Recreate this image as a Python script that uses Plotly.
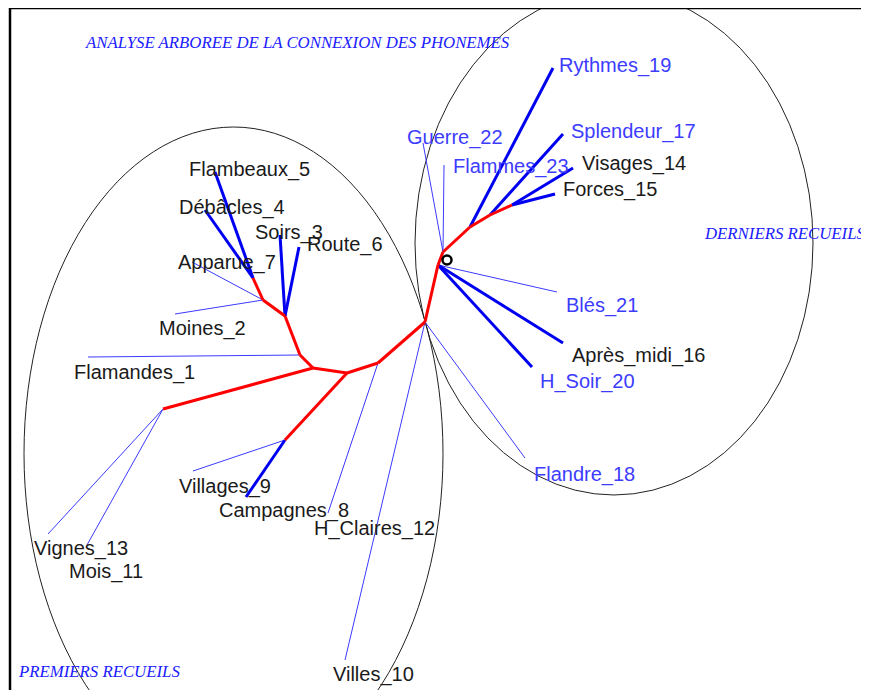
import plotly.graph_objects as go

# internal nodes of the tree (layout coordinates)
node_names = ["root", "a", "b", "c", "d", "e", "f", "g", "h", "i", "j", "k", "l", "m", "n"]
node_x = [438, 443, 470, 490, 512, 425, 378, 347, 285, 313, 163, 300, 285, 263, 253]
node_y = [265, 252, 227, 215, 205, 322, 363, 373, 440, 368, 409, 355, 316, 300, 278]

# internal (red) edges
edge_from = ["root", "a", "b", "c", "root", "e", "f", "g", "i", "i", "k", "l", "m", "g"]
edge_to = ["a", "b", "c", "d", "e", "f", "g", "i", "j", "k", "l", "m", "n", "h"]

# leaves
leaf_names = ["Flambeaux_5", "Débâcles_4", "Soirs_3", "Route_6", "Apparue_7", "Moines_2",
              "Flamandes_1", "Villages_9", "Campagnes_8", "H_Claires_12", "Vignes_13",
              "Mois_11", "Villes_10", "Flandre_18", "Rythmes_19", "Guerre_22", "Flammes_23",
              "Splendeur_17", "Visages_14", "Forces_15", "Blés_21", "Après_midi_16", "H_Soir_20"]
leaf_x = [215, 205, 280, 299, 192, 175, 88, 193, 246, 328, 48, 87, 345, 525, 553, 423, 444,
          563, 573, 555, 557, 563, 532]
leaf_y = [172, 210, 235, 247, 262, 314, 357, 471, 497, 513, 534, 545, 660, 458, 68, 143, 165,
          134, 168, 194, 292, 343, 367]
leaf_parent = ["n", "n", "l", "l", "m", "m", "k", "h", "h", "f", "j", "j", "e", "e", "b", "a",
               "a", "c", "d", "d", "root", "root", "root"]
leaf_strong = [1, 1, 1, 1, 0, 0, 0, 0, 1, 0, 0, 0, 0, 0, 1, 0, 0, 1, 1, 1, 0, 1, 1]
label_x = [187, 177, 253, 305, 176, 157, 72, 177, 217, 312, 32, 67, 331, 532, 557, 405, 451,
           569, 580, 561, 564, 570, 538]
label_y = [169, 207, 232, 244, 262, 328, 372, 486, 510, 528, 548, 571, 674, 474, 65, 137, 166,
           131, 163, 189, 305, 355, 381]
label_blue = ["Flandre_18", "Rythmes_19", "Guerre_22", "Flammes_23", "Splendeur_17",
              "Blés_21", "H_Soir_20"]

pos = {n: (x, y) for n, x, y in zip(node_names, node_x, node_y)}


def segs(pairs):
    xs, ys = [], []
    for (x0, y0), (x1, y1) in pairs:
        xs += [x0, x1, None]
        ys += [y0, y1, None]
    return xs, ys


fig = go.Figure()

rx, ry = segs([(pos[a], pos[b]) for a, b in zip(edge_from, edge_to)])
thick = [(pos[p], (x, y)) for p, x, y, s in zip(leaf_parent, leaf_x, leaf_y, leaf_strong) if s]
thin = [(pos[p], (x, y)) for p, x, y, s in zip(leaf_parent, leaf_x, leaf_y, leaf_strong) if not s]
tx, ty = segs(thick)
nx, ny = segs(thin)

fig.add_trace(go.Scatter(x=nx, y=ny, mode="lines", line=dict(color="#3b3bff", width=1),
                         hoverinfo="skip"))
fig.add_trace(go.Scatter(x=tx, y=ty, mode="lines", line=dict(color="#0000f0", width=3),
                         hoverinfo="skip"))
fig.add_trace(go.Scatter(x=rx, y=ry, mode="lines", line=dict(color="#ff0000", width=3),
                         hoverinfo="skip"))
fig.add_trace(go.Scatter(x=[447], y=[260], mode="markers", hoverinfo="skip",
                         marker=dict(symbol="circle-open", size=9, color="black",
                                     line=dict(width=2.5, color="black"))))

for name, x, y in zip(leaf_names, label_x, label_y):
    fig.add_annotation(x=x, y=y, text=name, showarrow=False, xanchor="left", yanchor="middle",
                       font=dict(family="Liberation Sans, Arial", size=20,
                                 color="#3c3cff" if name in label_blue else "#1a1a1a"))

title_font = dict(family="Liberation Serif, Times New Roman", size=16.8, color="#2020ff")
fig.add_annotation(x=83, y=42, text="<i>ANALYSE ARBOREE DE LA CONNEXION DES PHONEMES</i>",
                   showarrow=False, xanchor="left", yanchor="middle", font=title_font)
fig.add_annotation(x=702, y=233, text="<i>DERNIERS RECUEILS</i>",
                   showarrow=False, xanchor="left", yanchor="middle", font=title_font)
fig.add_annotation(x=16, y=671, text="<i>PREMIERS RECUEILS</i>",
                   showarrow=False, xanchor="left", yanchor="middle", font=title_font)

# group ellipses
fig.add_shape(type="circle", x0=24, x1=443, y0=127, y1=780,
              line=dict(color="#222222", width=1), layer="below")
fig.add_shape(type="circle", x0=415, x1=813, y0=-9, y1=495,
              line=dict(color="#222222", width=1), layer="below")

# frame
fig.add_shape(type="line", x0=10, x1=10, y0=8, y1=700, line=dict(color="black", width=2.5))
fig.add_shape(type="line", x0=10, x1=870, y0=8, y1=8, line=dict(color="black", width=2.5))

# the page body has an 8px margin; keep the page from scrolling
fig.update_layout(width=861, height=682, margin=dict(t=0, r=0, b=0, l=0),
                  plot_bgcolor="white", paper_bgcolor="white", showlegend=False)
fig.update_xaxes(range=[8, 869], showticklabels=False, showgrid=False, zeroline=False,
                 visible=False)
fig.update_yaxes(range=[690, 8], showticklabels=False, showgrid=False, zeroline=False,
                 visible=False)
fig.write_html("out.html")
